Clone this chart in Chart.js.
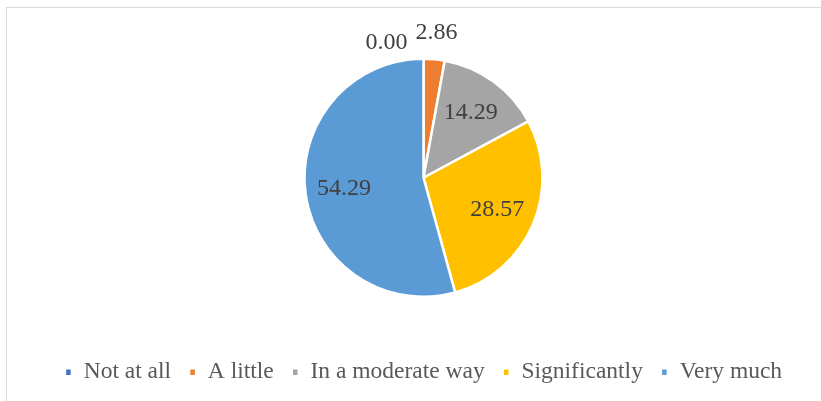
<!DOCTYPE html>
<html>
<head>
<meta charset="utf-8">
<script src="https://cdn.jsdelivr.net/npm/chart.js@4/dist/chart.umd.min.js"></script>
<style>
  html, body { margin: 0; padding: 0; background: #ffffff; overflow: hidden; }
  #wrap { position: relative; width: 821px; height: 401px; }
  #frame { position: absolute; left: 6px; top: 7px; width: 900px; height: 500px; border: 1px solid #d9d9d9; box-sizing: border-box; }
  #c { position: absolute; left: 0; top: 0; }
</style>
</head>
<body>
<div id="wrap">
  <div id="frame"></div>
  <canvas id="c" width="821" height="401"></canvas>
</div>
<script>
const categories = ["Not at all", "A little", "In a moderate way", "Significantly", "Very much"];
const values = [0.00, 2.86, 14.29, 28.57, 54.29];
const colors = ["#4472C4", "#ED7D31", "#A5A5A5", "#FFC000", "#5B9BD5"];

const FONT = "'Liberation Serif', 'Times New Roman', serif";

const labelPlugin = {
  id: 'sliceLabels',
  afterDatasetsDraw(chart) {
    const ctx = chart.ctx;
    const meta = chart.getDatasetMeta(0);
    const data = chart.data.datasets[0].data;
    ctx.save();
    ctx.font = "24px " + FONT;
    ctx.fillStyle = "#404040";
    ctx.textBaseline = "middle";
    const outside = [];
    meta.data.forEach((arc, i) => {
      const p = arc.getProps(['x', 'y', 'startAngle', 'endAngle', 'outerRadius'], true);
      const mid = (p.startAngle + p.endAngle) / 2;
      const frac = (p.endAngle - p.startAngle) / (Math.PI * 2);
      const txt = data[i].toFixed(2);
      if (frac >= 0.08) {
        const d = p.outerRadius * 0.675;
        ctx.textAlign = "center";
        ctx.fillText(txt, p.x + Math.cos(mid) * d, p.y + Math.sin(mid) * d);
      } else {
        const d = p.outerRadius * 1.22;
        outside.push({ txt, x: p.x + Math.cos(mid) * d, y: p.y + Math.sin(mid) * d, w: ctx.measureText(txt).width });
      }
    });
    // resolve overlaps: shift the earlier label left and down
    for (let k = outside.length - 2; k >= 0; k--) {
      const a = outside[k], b = outside[k + 1];
      const aRight = a.x + a.w / 2, bLeft = b.x - b.w / 2;
      if (aRight > bLeft - 8 && Math.abs(a.y - b.y) < 20) {
        a.x -= (aRight - (bLeft - 8));
        a.y += 10;
      }
    }
    ctx.textAlign = "center";
    outside.forEach(o => ctx.fillText(o.txt, o.x, o.y));
    ctx.restore();
  }
};

new Chart(document.getElementById('c'), {
  type: 'pie',
  data: {
    labels: categories,
    datasets: [{
      data: values,
      backgroundColor: colors,
      borderColor: "#ffffff",
      borderWidth: 2.5,
      radius: 119
    }]
  },
  options: {
    responsive: false,
    animation: false,
    events: [],
    layout: { padding: { top: 13, bottom: 7, left: 26, right: 0 } },
    plugins: {
      tooltip: { enabled: false },
      legend: {
        position: 'bottom',
        labels: {
          boxWidth: 7,
          boxHeight: 8,
          padding: 18,
          color: "#595959",
          font: { family: FONT, size: 23.5 }
        }
      }
    }
  },
  plugins: [labelPlugin]
});
</script>
</body>
</html>
